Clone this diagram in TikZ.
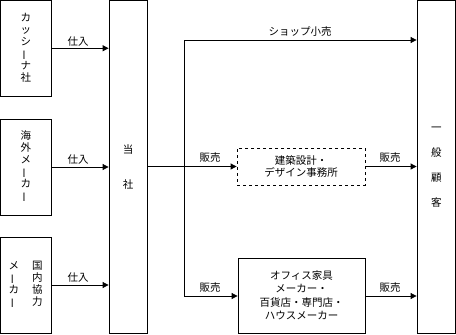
\documentclass[tikz,border=0pt]{standalone}
\usepackage{fontspec}
\newfontfamily\cjk{Noto Sans CJK JP}
\usetikzlibrary{arrows.meta}
\newcommand{\vbar}{\rotatebox[origin=c]{90}{ー}}
\begin{document}
\begin{tikzpicture}[x=1pt,y=-1pt,
  box/.style={draw,line width=0.8pt,inner sep=0pt,align=center,font=\cjk\fontsize{10.5}{12}\selectfont},
  dbox/.style={box,dashed},
  arr/.style={line width=0.8pt,-{Triangle[length=6pt,width=6pt]}},
  ln/.style={line width=0.8pt},
  lbl/.style={font=\cjk\fontsize{10.5}{12}\selectfont,inner sep=0pt}]
\useasboundingbox (0,0) rectangle (456,335);
\node[box,minimum width=50.5pt,minimum height=95.5pt] (k) at (25.75,48.25) {カ\\ッ\\シ\\\vbar\\ナ\\社};
\node[box,minimum width=50.5pt,minimum height=96pt] (m) at (25.75,167) {海\\外\\メ\\\vbar\\カ\\\vbar};
\node[box,minimum width=50.5pt,minimum height=96pt,font=\cjk\fontsize{10.5}{11.5}\selectfont] (d) at (25.75,285) {\begin{tabular}{@{}c@{\hspace{13pt}}c@{}}メ&国\\\vbar&内\\カ&協\\\vbar&力\end{tabular}};
\node[box,minimum width=38pt,minimum height=332.5pt,font=\cjk\fontsize{10.5}{35}\selectfont] (t) at (128,166.75) {当\\社};
\node[box,minimum width=38.5pt,minimum height=332.5pt,font=\cjk\fontsize{10.5}{25}\selectfont] (c) at (436.25,166.75) {一\\般\\顧\\客};
\node[dbox,minimum width=128pt,minimum height=37pt] (a) at (301,166.5) {建築設計・\\デザイン事務所};
\node[box,minimum width=127pt,minimum height=75pt,font=\cjk\fontsize{10.5}{13.5}\selectfont] (o) at (301.5,295.5) {オフィス家具\\メーカー・\\百貨店・専門店・\\ハウスメーカー};
\draw[arr] (k.east) -- (k.east -| t.west);
\draw[arr] (m.east) -- (m.east -| t.west);
\draw[arr] (d.east) -- (d.east -| t.west);
\draw[arr] (t.east |- a.west) -- (a.west);
\coordinate (b1) at (184,40);
\coordinate (b2) at (184,296);
\draw[ln] (b1) -- (b2);
\draw[arr] (b1) -- (b1 -| c.west);
\draw[arr] (b2) -- (b2 -| o.west);
\draw[arr] (a.east) -- (a.east -| c.west);
\draw[arr] (o.east |- b2) -- (b2 -| c.west);
\node[lbl] (l1) at (78,42) {仕入};
\node[lbl] (l2) at (78,160) {仕入};
\node[lbl] (l3) at (78,278) {仕入};
\node[lbl] (l4) at (300,32) {ショップ小売};
\node[lbl] (l5) at (210,158) {販売};
\node[lbl] (l6) at (390,158) {販売};
\node[lbl] (l7) at (210,288) {販売};
\node[lbl] (l8) at (390,288) {販売};
\end{tikzpicture}
\end{document}
